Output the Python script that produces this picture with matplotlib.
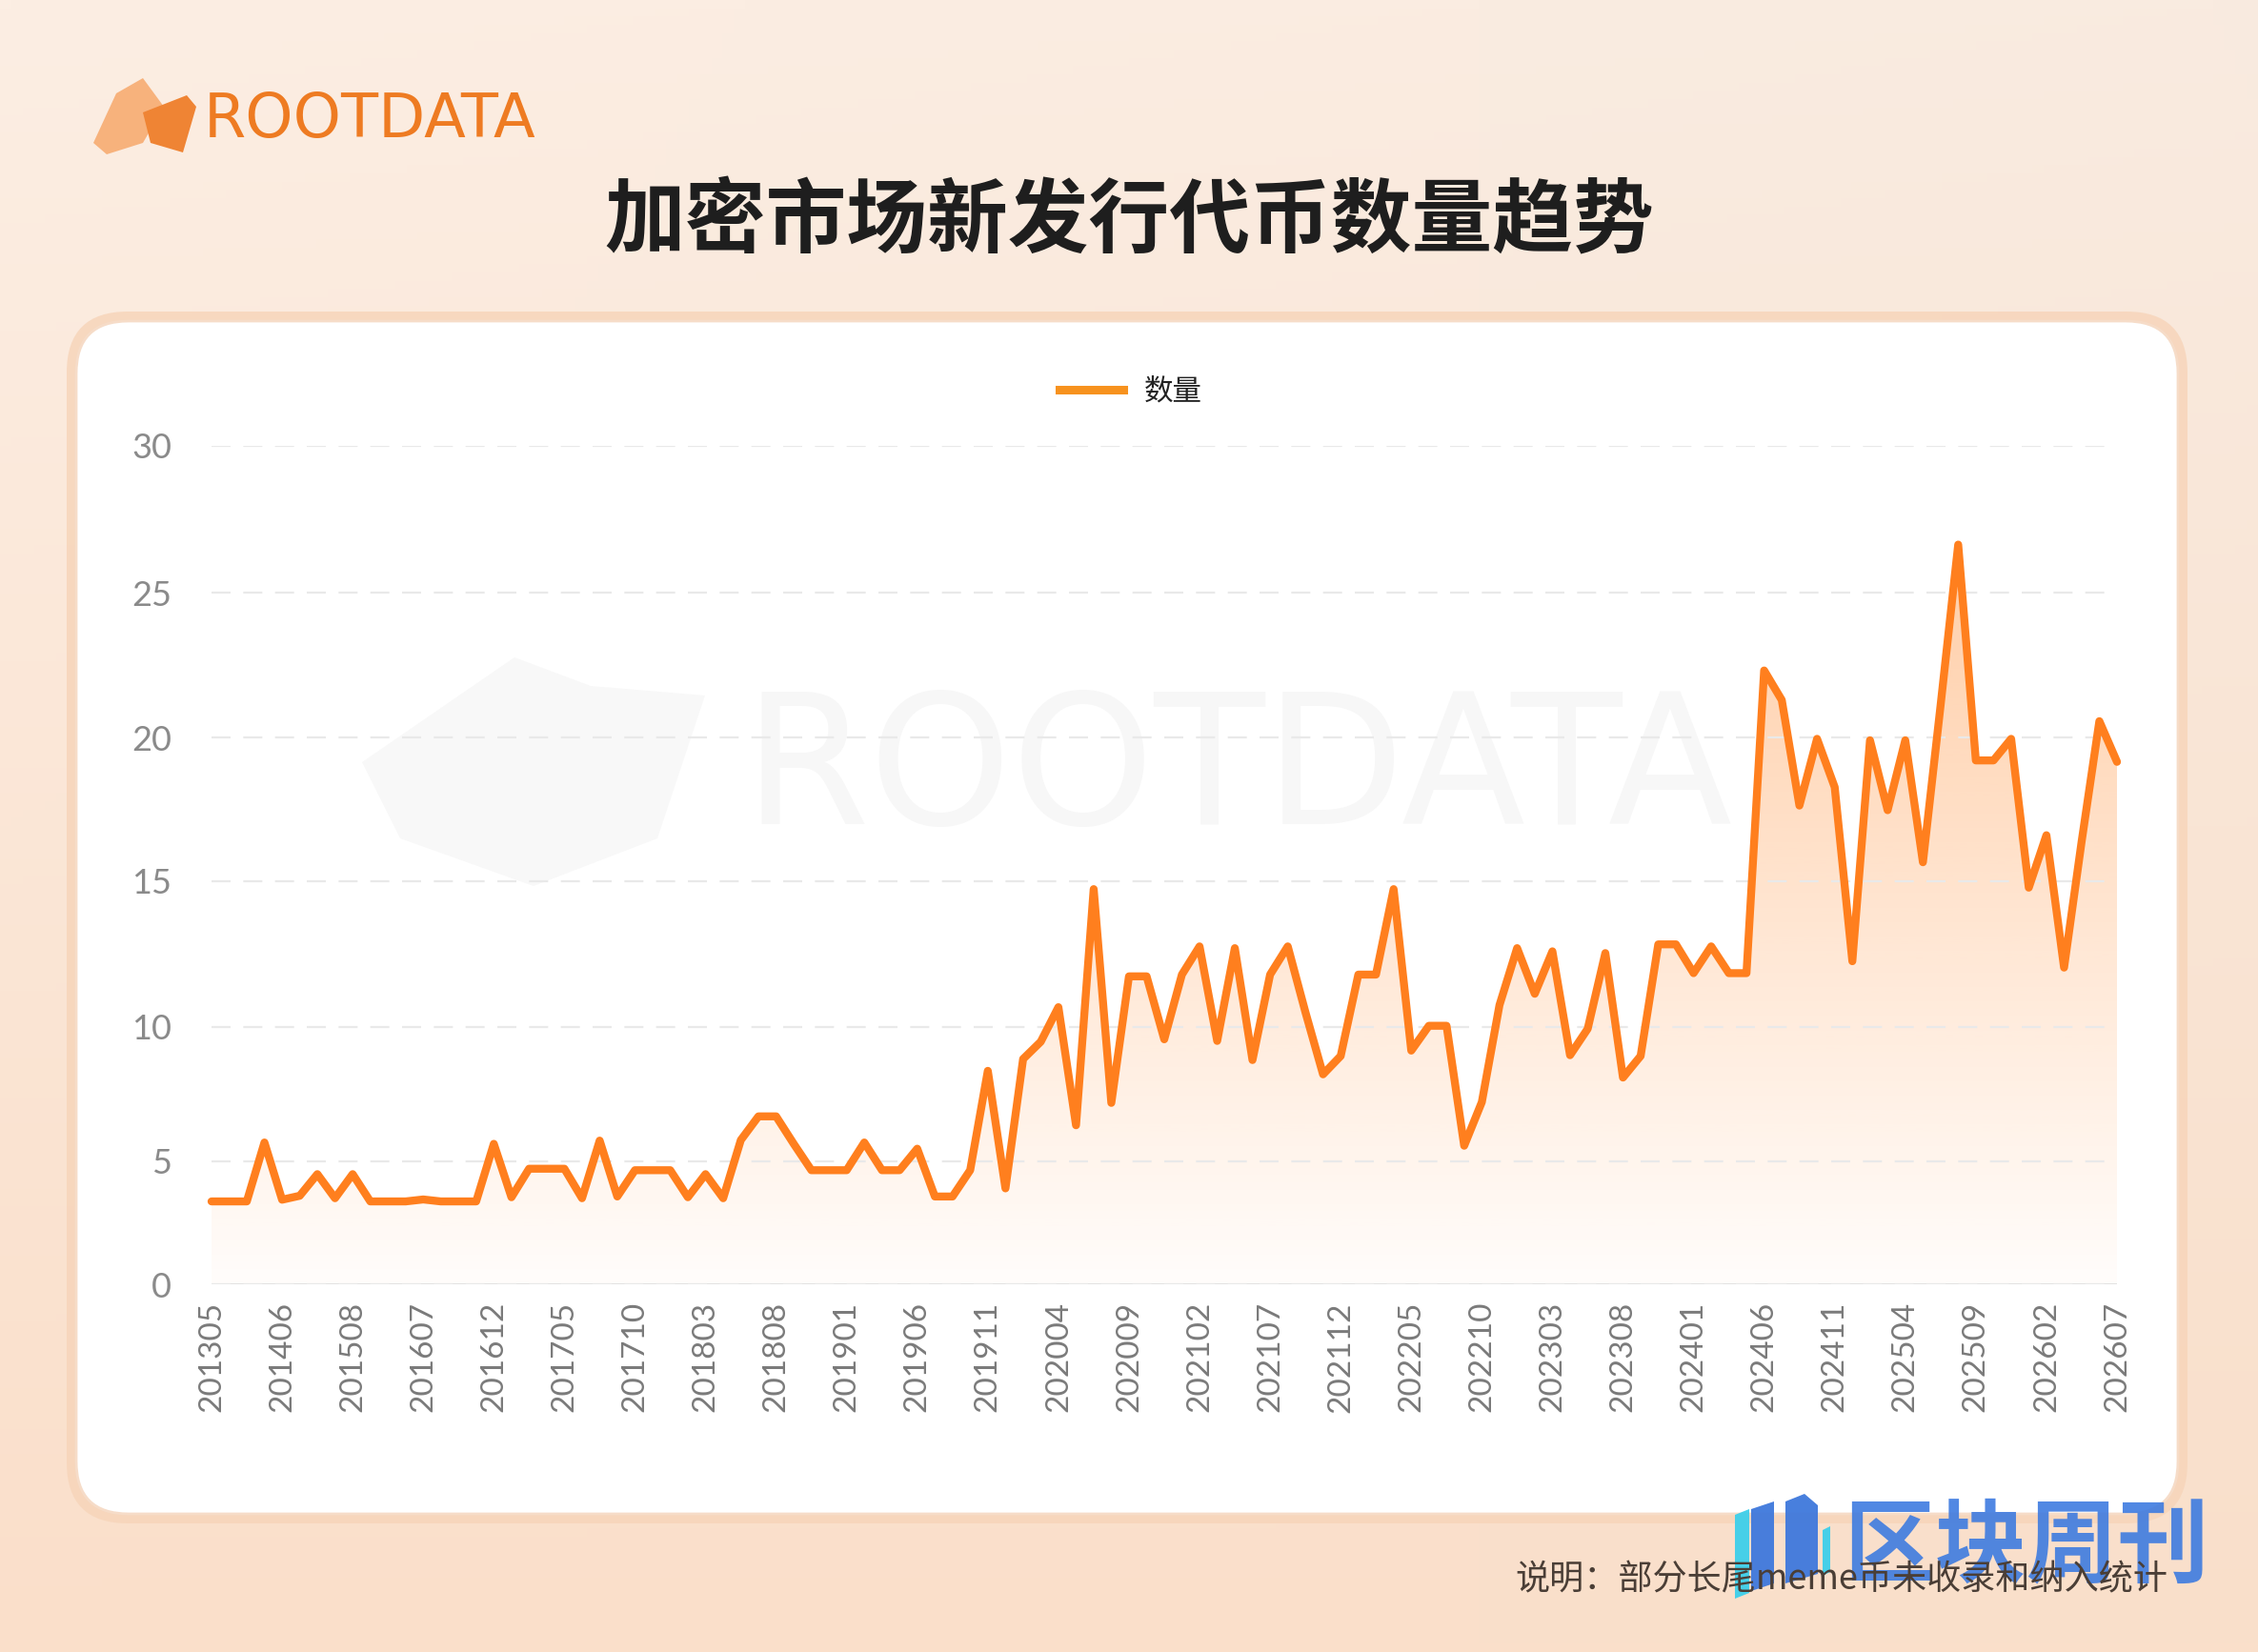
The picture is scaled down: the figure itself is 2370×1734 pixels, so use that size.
import numpy as np
import matplotlib
matplotlib.use('Agg')
import matplotlib.pyplot as plt
from matplotlib.patches import FancyBboxPatch, Polygon
from matplotlib.lines import Line2D
from matplotlib.ticker import NullLocator

plt.rcParams['font.family'] = ['Noto Sans CJK SC', 'DejaVu Sans']

# ---------------- data ----------------
title = '加密市场新发行代币数量趋势'
series_name = '数量'
note = '说明：部分长尾meme币未收录和纳入统计'
tick_labels = ['201305', '201406', '201508', '201607', '201612', '201705', '201710',
               '201803', '201808', '201901', '201906', '201911', '202004', '202009',
               '202102', '202107', '202112', '202205', '202210', '202303', '202308',
               '202401', '202406', '202411', '202504', '202509', '202602', '202607']
label_every = 4
counts = [3.37, 3.37, 3.37, 5.7, 3.44, 3.6, 4.48, 3.5, 4.48, 3.37,
          3.37, 3.37, 3.45, 3.37, 3.37, 3.37, 5.65, 3.54, 4.7, 4.7,
          4.7, 3.5, 5.77, 3.57, 4.64, 4.64, 4.64, 3.54, 4.48, 3.5,
          5.79, 6.67, 6.67, 5.65, 4.64, 4.64, 4.64, 5.7, 4.64, 4.64,
          5.47, 3.57, 3.57, 4.64, 8.36, 3.9, 8.8, 9.44, 10.67, 6.34,
          14.73, 7.17, 11.73, 11.73, 9.53, 11.79, 12.76, 9.47, 12.7, 8.76,
          11.79, 12.76, 10.5, 8.23, 8.91, 11.79, 11.79, 14.73, 9.11, 10.03,
          10.03, 5.58, 7.2, 10.74, 12.7, 11.13, 12.59, 8.94, 9.92, 12.53,
          8.11, 8.91, 12.83, 12.83, 11.84, 12.76, 11.84, 11.84, 22.31, 21.29,
          17.63, 19.95, 18.27, 12.25, 19.9, 17.47, 19.9, 15.66, 21.1, 26.63,
          19.2, 19.2, 19.95, 14.78, 16.6, 12.03, 16.4, 20.56, 19.15]
y_ticks = [0, 5, 10, 15, 20, 25, 30]
# relative heights of the gridlines as drawn in the reference (bottom rows are compressed)
y_tick_heights = [0, 129, 270.4, 423, 574, 726, 880.5]

# ---------------- figure ----------------
W, H = 2370, 1734
fig = plt.figure(figsize=(W / 100, H / 100), dpi=100)

bg = fig.add_axes([0, 0, 1, 1])
bg.set_xlim(0, W)
bg.set_ylim(H, 0)
bg.axis('off')

# page gradient
gy = np.linspace(0, 1, 200)[:, None]
gx = np.linspace(0, 1, 200)[None, :]
top = np.array([252, 238, 227]) / 255
bot = np.array([250, 223, 202]) / 255
img = top[None, None, :] * (1 - gy[..., None]) + bot[None, None, :] * gy[..., None]
img = img - 0.012 * gx[..., None] * (1 - gy[..., None])
bg.imshow(np.clip(img, 0, 1), extent=(0, W, H, 0), origin='upper', aspect='auto', zorder=0)

# card
bg.add_patch(FancyBboxPatch((70, 327), 2226, 1272, boxstyle='round,pad=0,rounding_size=64',
                            fc='#F7D5BA', ec='none', alpha=0.85, zorder=1))
bg.add_patch(FancyBboxPatch((80, 337), 2206, 1252, boxstyle='round,pad=0,rounding_size=55',
                            fc='white', ec='#F6DCC8', lw=2, zorder=2))

# top-left logo
bg.add_patch(Polygon([(98, 150), (122, 98), (150, 82), (172, 112), (150, 150), (112, 162)],
                     closed=True, fc='#F7B27C', ec='none', zorder=3))
bg.add_patch(Polygon([(150, 118), (196, 100), (206, 112), (192, 160), (158, 150)],
                     closed=True, fc='#EF8434', ec='none', zorder=3))
bg.text(214, 126, 'ROOTDATA', fontsize=46, color='#EE7B22', family='DejaVu Sans',
        ha='left', va='center', zorder=3)

# big faint watermark in the plot
bg.add_patch(Polygon([(380, 800), (540, 690), (620, 720), (740, 730), (690, 880), (560, 930), (420, 880)],
                     closed=True, fc='#F8F8F8', ec='none', zorder=2.5))
bg.text(780, 812, 'ROOTDATA', fontsize=137, color='#F7F7F7', family='DejaVu Sans',
        ha='left', va='center', zorder=2.5)

# title
fig.text(0.5, 1 - 233 / H, title, fontsize=61, fontweight='bold', color='#1E1E1E',
         ha='center', va='center')

# ---------------- plot ----------------
x0, x1 = 222, 2222
yb, yt = 1348, 467.5
ax = fig.add_axes([x0 / W, 1 - yb / H, (x1 - x0) / W, (yb - yt) / H])
ax.patch.set_alpha(0)


def fwd(v):
    return np.interp(v, y_ticks, y_tick_heights)


def inv(p):
    return np.interp(p, y_tick_heights, y_ticks)


ax.set_yscale('function', functions=(fwd, inv))
idx = np.arange(len(counts))
ax.set_xlim(0, len(counts) - 1)
ax.set_ylim(0, 30)
ax.set_yticks(y_ticks)
ax.yaxis.set_minor_locator(NullLocator())
ax.set_xticks(idx[::label_every])
ax.set_xticklabels(tick_labels, rotation=90, family='Lato', fontsize=24, color='#7A7A7A')
for t in ax.get_yticklabels():
    t.set_family('Lato')
ax.tick_params(axis='y', length=0, pad=30, labelsize=26, labelcolor='#8A8A8A')
ax.tick_params(axis='x', length=0, pad=13)
for s in ax.spines.values():
    s.set_visible(False)
ax.yaxis.grid(True, color='#E9E9E9', linestyle=(0, (9, 6)), lw=1.6, zorder=0)
ax.axhline(0, color='#E2E2E2', lw=2.2, zorder=1)

orange = '#FF7F1E'
poly = ax.fill_between(idx, counts, 0, color='none', lw=0)
clip = poly.get_paths()[0]

# gradient area under the line (drawn in pixel space, clipped to the area)
n = 256
rgb = np.array(matplotlib.colors.to_rgb('#FF8A2E'))
gimg = np.zeros((n, 1, 4))
gimg[..., :3] = rgb
gimg[..., 3] = np.linspace(0.42, 0.02, n)[:, None]
gtop = yb - fwd(max(counts))
im = bg.imshow(gimg, extent=(x0, x1, yb, gtop), origin='upper', aspect='auto', zorder=3,
               interpolation='bilinear')
im.set_clip_path(clip, transform=ax.transData)
bg.set_xlim(0, W)
bg.set_ylim(H, 0)

ax.plot(idx, counts, color=orange, lw=6.0, solid_joinstyle='round', solid_capstyle='round',
        clip_on=False, zorder=5)

leg = ax.legend(handles=[Line2D([], [], color='#F7921E', lw=6.5)], labels=[series_name],
                loc='center', bbox_to_anchor=(1187 / W, 1 - 411 / H), bbox_transform=fig.transFigure,
                frameon=False, fontsize=22, handlelength=2.2, handletextpad=0.7)
for t in leg.get_texts():
    t.set_color('#222222')
    t.set_fontweight('medium')

# ---------------- footer ----------------
fig.text(1590 / W, 1 - 1658 / H, note, fontsize=26, color='#4A3E36', fontweight='medium',
         ha='left', va='center')
bg.add_patch(Polygon([(1821, 1590), (1836, 1584), (1836, 1672), (1821, 1678)], closed=True,
                     fc='#3CCFEA', ec='none', alpha=0.95, zorder=6))
bg.add_patch(Polygon([(1838, 1584), (1862, 1576), (1862, 1662), (1838, 1670)], closed=True,
                     fc='#3E78DC', ec='none', alpha=0.95, zorder=6))
bg.add_patch(Polygon([(1874, 1576), (1894, 1568), (1908, 1580), (1908, 1652), (1874, 1662)], closed=True,
                     fc='#3E78DC', ec='none', alpha=0.95, zorder=6))
bg.add_patch(Polygon([(1913, 1606), (1921, 1602), (1921, 1650), (1913, 1654)], closed=True,
                     fc='#3CCFEA', ec='none', alpha=0.95, zorder=6))
bg.text(1935, 1624, '区块周刊', fontsize=69, fontweight='bold', color='#3E7BE0', alpha=0.9,
        ha='left', va='center', zorder=6)

fig.savefig('out.png', dpi=100)
